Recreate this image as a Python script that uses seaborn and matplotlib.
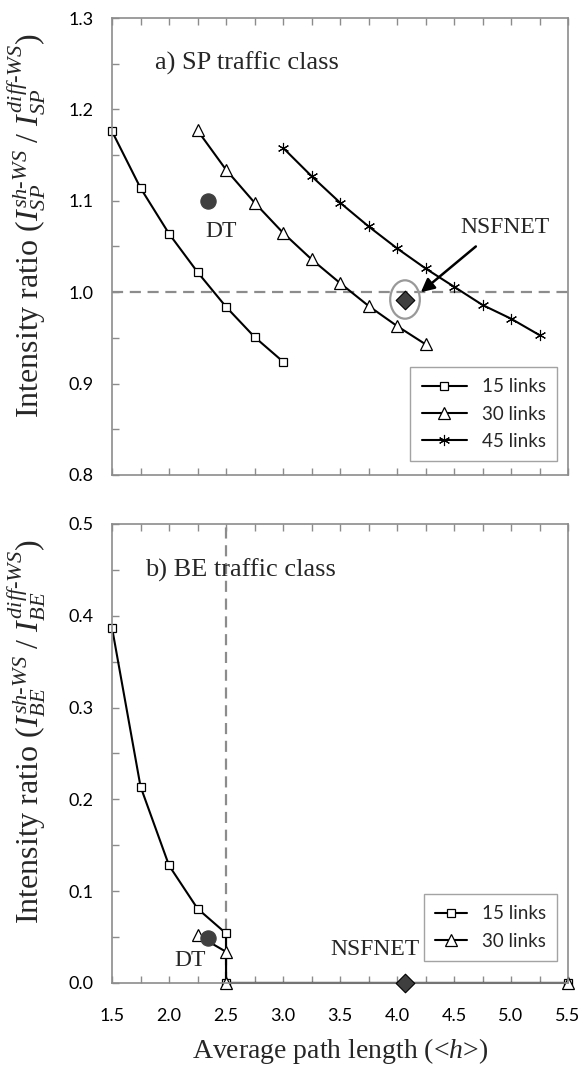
import numpy as np
import pandas as pd
import matplotlib
matplotlib.use("Agg")
import matplotlib.pyplot as plt
import seaborn as sns
from matplotlib.patches import Ellipse
from matplotlib.ticker import MultipleLocator, FormatStrFormatter

# ---------------- data ----------------
# (a) SP traffic class
sp15_x = [1.5, 1.75, 2.0, 2.25, 2.5, 2.75, 3.0]
sp15_y = [1.176, 1.114, 1.064, 1.022, 0.984, 0.951, 0.924]
sp30_x = [2.25, 2.5, 2.75, 3.0, 3.25, 3.5, 3.75, 4.0, 4.25]
sp30_y = [1.177, 1.134, 1.098, 1.065, 1.036, 1.010, 0.985, 0.963, 0.943]
sp45_x = [3.0, 3.25, 3.5, 3.75, 4.0, 4.25, 4.5, 4.75, 5.0, 5.25]
sp45_y = [1.158, 1.127, 1.098, 1.072, 1.048, 1.026, 1.006, 0.986, 0.971, 0.953]
sp_dt = (2.34, 1.10)
sp_nsf = (4.07, 0.992)

# (b) BE traffic class
be15_x = [1.5, 1.75, 2.0, 2.25, 2.5, 2.5, 5.5]
be15_y = [0.387, 0.214, 0.128, 0.081, 0.054, 0.0, 0.0]
be30_x = [2.25, 2.5, 2.5, 5.5]
be30_y = [0.052, 0.034, 0.0, 0.0]
be_dt = (2.345, 0.049)
be_nsf = (4.07, 0.0)

series_labels = ["15 links", "30 links", "45 links"]

# ---------------- style ----------------
sns.set_theme(style="white")
plt.rcParams["font.family"] = ["Lato", "DejaVu Sans"]
plt.rcParams["mathtext.fontset"] = "custom"
plt.rcParams["mathtext.rm"] = "Liberation Serif"
plt.rcParams["mathtext.it"] = "Liberation Serif:italic"
plt.rcParams["mathtext.bf"] = "Liberation Serif:bold"

SERIF = "Liberation Serif"
SPINE = "#8c8c8c"
DARK = "#3f3f3f"

fig = plt.figure(figsize=(5.81, 10.79), dpi=100)
ax1 = fig.add_axes([0.1928, 0.5598, 0.7849, 0.4235])
ax2 = fig.add_axes([0.1928, 0.0890, 0.7849, 0.4254])

line_kw = dict(color="black", linewidth=1.5, estimator=None, sort=False,
               markersize=6, markerfacecolor="white", markeredgecolor="black",
               markeredgewidth=0.9, clip_on=False)

# ---- panel a ----
sns.lineplot(x=sp15_x, y=sp15_y, ax=ax1, marker="s", label=series_labels[0], **line_kw)
sns.lineplot(x=sp30_x, y=sp30_y, ax=ax1, marker="^", label=series_labels[1],
             **{**line_kw, "markersize": 8})
sns.lineplot(x=sp45_x, y=sp45_y, ax=ax1, marker=(6, 2, 0), label=series_labels[2],
             **{**line_kw, "markersize": 8, "markeredgewidth": 0.8})
ax1.axhline(1.0, color="#8c8c8c", linestyle=(0, (5, 3)), linewidth=1.6, zorder=1)
sns.scatterplot(x=[sp_dt[0]], y=[sp_dt[1]], ax=ax1, s=120, color=DARK,
                edgecolor=DARK, zorder=5)
sns.scatterplot(x=[sp_nsf[0]], y=[sp_nsf[1]], ax=ax1, s=90, marker="D",
                color=DARK, edgecolor="black", linewidth=0.8, zorder=5)
ax1.add_patch(Ellipse(sp_nsf, width=0.26, height=0.042, fill=False,
                      edgecolor="#999999", linewidth=1.6, zorder=4))
ax1.annotate("", xy=(4.19, 0.998), xytext=(4.71, 1.052),
             arrowprops=dict(arrowstyle="-|>", color="black", lw=1.8,
                             mutation_scale=20), zorder=6)
ax1.text(2.455, 1.066, "DT", family=SERIF, fontsize=17, ha="center", va="center")
ax1.text(4.95, 1.071, "NSFNET", family=SERIF, fontsize=17, ha="center", va="center")
ax1.text(0.094, 0.90, "a) SP traffic class", transform=ax1.transAxes,
         family=SERIF, fontsize=19, ha="left", va="center")

ax1.set_xlim(1.5, 5.5)
ax1.set_ylim(0.8, 1.3)
ax1.yaxis.set_major_locator(MultipleLocator(0.1))
ax1.yaxis.set_minor_locator(MultipleLocator(0.05))
ax1.yaxis.set_major_formatter(FormatStrFormatter("%.1f"))
ax1.xaxis.set_major_locator(MultipleLocator(0.5))
ax1.xaxis.set_minor_locator(MultipleLocator(0.25))
ax1.tick_params(axis="x", which="both", labelbottom=False)
ax1.set_ylabel(r"Intensity ratio ($I_{SP}^{sh\text{-}WS}$ / $I_{SP}^{diff\text{-}WS}$)",
               family=SERIF, fontsize=23)
leg1 = ax1.legend(loc="lower right", bbox_to_anchor=(0.976, 0.03), fontsize=13.5,
                  frameon=True, fancybox=False, handlelength=2.4, borderaxespad=0,
                  borderpad=0.6, labelspacing=0.55)

# ---- panel b ----
sns.lineplot(x=be15_x, y=be15_y, ax=ax2, marker="s", label=series_labels[0], **line_kw)
sns.lineplot(x=be30_x, y=be30_y, ax=ax2, marker="^", label=series_labels[1],
             **{**line_kw, "markersize": 8})
ax2.axvline(2.5, color="#8c8c8c", linestyle=(0, (5, 3)), linewidth=1.6, zorder=1)
sns.scatterplot(x=[be_dt[0]], y=[be_dt[1]], ax=ax2, s=120, color=DARK,
                edgecolor=DARK, zorder=5)
sns.scatterplot(x=[be_nsf[0]], y=[be_nsf[1]], ax=ax2, s=90, marker="D",
                color=DARK, edgecolor="black", linewidth=0.8, zorder=5, clip_on=False)
ax2.text(2.185, 0.025, "DT", family=SERIF, fontsize=17, ha="center", va="center")
ax2.text(3.81, 0.036, "NSFNET", family=SERIF, fontsize=17, ha="center", va="center")
ax2.text(0.072, 0.90, "b) BE traffic class", transform=ax2.transAxes,
         family=SERIF, fontsize=19, ha="left", va="center")

ax2.set_xlim(1.5, 5.5)
ax2.set_ylim(0.0, 0.5)
ax2.yaxis.set_major_locator(MultipleLocator(0.1))
ax2.yaxis.set_minor_locator(MultipleLocator(0.05))
ax2.yaxis.set_major_formatter(FormatStrFormatter("%.1f"))
ax2.xaxis.set_major_locator(MultipleLocator(0.5))
ax2.xaxis.set_minor_locator(MultipleLocator(0.25))
ax2.xaxis.set_major_formatter(FormatStrFormatter("%.1f"))
ax2.set_ylabel(r"Intensity ratio ($I_{BE}^{sh\text{-}WS}$ / $I_{BE}^{diff\text{-}WS}$)",
               family=SERIF, fontsize=23)
ax2.set_xlabel(r"Average path length (<$h$>)", family=SERIF, fontsize=20, labelpad=9)
leg2 = ax2.legend(loc="lower right", bbox_to_anchor=(0.976, 0.048), fontsize=13.5,
                  frameon=True, fancybox=False, handlelength=1.7, borderaxespad=0,
                  borderpad=0.6, labelspacing=0.55)

for ax in (ax1, ax2):
    for sp in ax.spines.values():
        sp.set_visible(True)
        sp.set_color(SPINE)
        sp.set_linewidth(1.2)
    ax.tick_params(axis="both", which="both", direction="in", length=5,
                   width=1.0, color=SPINE, labelsize=13, labelcolor="black")
    ax.tick_params(axis="x", which="both", top=True, bottom=True)
    ax.tick_params(axis="y", which="both", left=True, right=False, pad=13.5)
    ax.tick_params(axis="x", which="both", pad=18)
    ax.grid(False)

ax1.yaxis.set_label_coords(-0.14, 0.545)
ax2.yaxis.set_label_coords(-0.14, 0.547)

for leg in (leg1, leg2):
    fr = leg.get_frame()
    fr.set_edgecolor(SPINE)
    fr.set_linewidth(1.0)
    fr.set_boxstyle("square", pad=0)

fig.savefig("out.png", dpi=100)
